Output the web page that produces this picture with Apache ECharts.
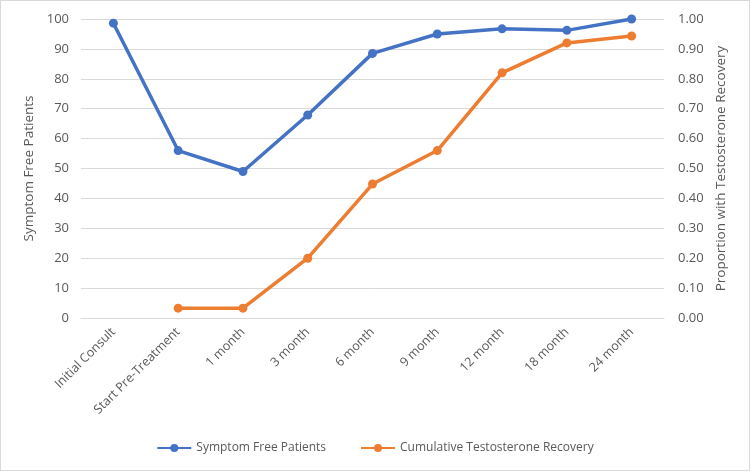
<!DOCTYPE html>
<html>
<head>
<meta charset="utf-8">
<script src="https://cdn.jsdelivr.net/npm/echarts@6/dist/echarts.min.js"></script>
<style>
html, body { margin: 0; padding: 0; background: #fff; }
#chart { width: 748px; height: 469px; border: 1px solid #d9d9d9; }
</style>
</head>
<body>
<div id="chart"></div>
<script>
var categories = ['Initial Consult', 'Start Pre-Treatment', '1 month', '3 month', '6 month', '9 month', '12 month', '18 month', '24 month'];
var symptomFree = [98.6, 56, 49, 67.9, 88.5, 95, 96.7, 96.2, 100];
var testoRecovery = [null, 0.033, 0.033, 0.20, 0.448, 0.56, 0.82, 0.92, 0.943];

var textColor = '#595959',
    fontFamily = 'Open Sans';

var myChart = echarts.init(document.getElementById('chart'));
myChart.setOption({
    backgroundColor: '#fff',
    textStyle: { fontFamily: fontFamily, color: textColor },
    grid: { left: 80, right: 85, top: 18, bottom: 152 },
    legend: {
        bottom: 11,
        itemGap: 34,
        itemWidth: 34,
        itemHeight: 10,
        textStyle: { fontSize: 12, color: textColor, fontFamily: fontFamily },
        data: ['Symptom Free Patients', 'Cumulative Testosterone Recovery']
    },
    xAxis: {
        type: 'category',
        data: categories,
        boundaryGap: true,
        axisLine: { lineStyle: { color: '#d9d9d9' } },
        axisTick: { show: false },
        axisLabel: { rotate: 45, color: textColor, fontSize: 12.5, margin: 12 }
    },
    yAxis: [
        {
            type: 'value',
            min: 0,
            max: 100,
            interval: 10,
            name: 'Symptom Free Patients',
            nameLocation: 'middle',
            nameGap: 36,
            nameTextStyle: { fontSize: 13.5, color: textColor },
            axisLine: { show: false },
            axisTick: { show: false },
            axisLabel: { color: textColor, fontSize: 13, margin: 12 },
            splitLine: { lineStyle: { color: '#d9d9d9' } }
        },
        {
            type: 'value',
            min: 0,
            max: 1,
            interval: 0.1,
            name: 'Proportion with Testosterone Recovery',
            nameLocation: 'middle',
            nameGap: 45,
            nameTextStyle: { fontSize: 13.5, color: textColor },
            axisLine: { show: false },
            axisTick: { show: false },
            axisLabel: {
                color: textColor,
                fontSize: 13,
                margin: 14,
                formatter: function (v) { return v.toFixed(2); }
            },
            splitLine: { show: false }
        }
    ],
    series: [
        {
            name: 'Symptom Free Patients',
            type: 'line',
            yAxisIndex: 0,
            data: symptomFree,
            symbol: 'circle',
            symbolSize: 9,
            lineStyle: { width: 3.5, color: '#4472c4' },
            itemStyle: { color: '#4472c4' }
        },
        {
            name: 'Cumulative Testosterone Recovery',
            type: 'line',
            yAxisIndex: 1,
            data: testoRecovery,
            symbol: 'circle',
            symbolSize: 9,
            lineStyle: { width: 3.5, color: '#ed7d31' },
            itemStyle: { color: '#ed7d31' }
        }
    ]
});
</script>
</body>
</html>
